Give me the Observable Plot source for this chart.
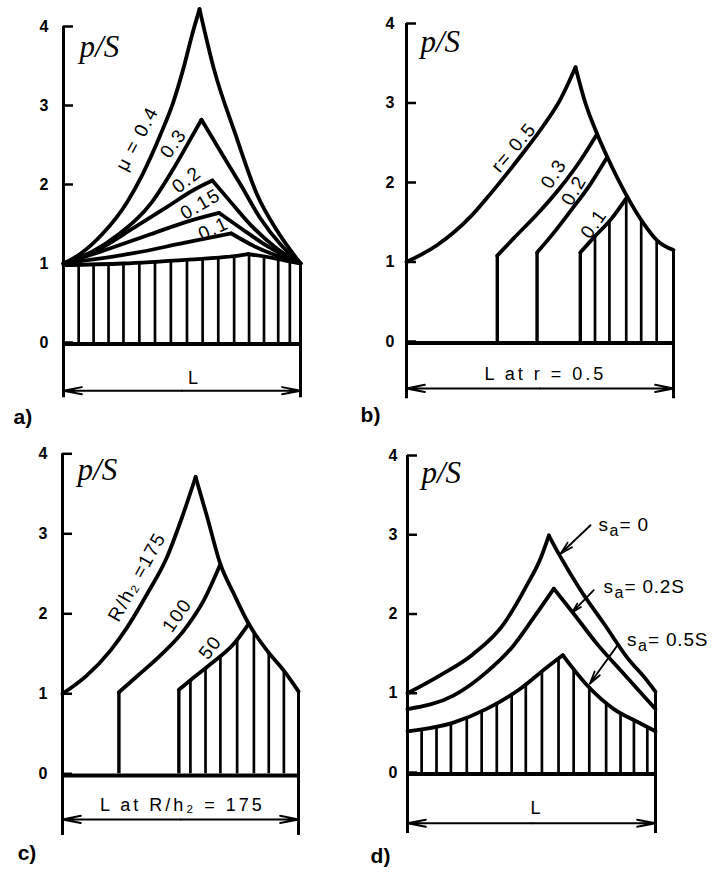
<!DOCTYPE html>
<html>
<head>
<meta charset="utf-8">
<script src="https://cdn.jsdelivr.net/npm/d3@7"></script>
<script src="https://cdn.jsdelivr.net/npm/@observablehq/plot@0.6"></script>
<style>
  body { margin: 0; background: #fff; }
  #fig { position: relative; width: 713px; height: 872px; background: #fff; overflow: hidden; }
  .panel { position: absolute; }
</style>
</head>
<body>
<div id="fig"></div>
<script>
// ---------- DATA (x = position along L, v = p/S) ----------
const yTicks = [0, 1, 2, 3, 4];

// a) friction coefficient mu
const aMu04  = [[0,1.0],[0.07,1.12],[0.163,1.37],[0.269,1.78],[0.332,2.12],[0.409,2.63],[0.464,3.05],[0.506,3.47],[0.543,3.9],[0.574,4.22],[0.634,3.47],[0.726,2.63],[0.817,1.87],[0.902,1.41],[1,1.0]];
const aMu03  = [[0,1.0],[0.121,1.15],[0.233,1.37],[0.374,1.78],[0.466,2.21],[0.529,2.54],[0.582,2.82],[0.662,2.42],[0.747,2.0],[0.831,1.57],[0.916,1.24],[1,1.0]];
const aMu02  = [[0,1.0],[0.156,1.19],[0.296,1.45],[0.439,1.72],[0.549,1.93],[0.628,2.05],[0.705,1.78],[0.802,1.45],[0.9,1.19],[1,1.0]];
const aMu015 = [[0,1.0],[0.156,1.15],[0.367,1.37],[0.522,1.53],[0.657,1.64],[0.747,1.45],[0.86,1.22],[1,1.0]];
const aMu01  = [[0,1.0],[0.296,1.13],[0.508,1.26],[0.708,1.38],[0.804,1.22],[1,1.0]];
const aLow   = [[0,0.98],[0.25,1.0],[0.53,1.05],[0.71,1.09],[0.78,1.12],[0.9,1.06],[1,1.0]];
const aHatchX = [0.064,0.127,0.19,0.253,0.32,0.386,0.453,0.521,0.587,0.653,0.72,0.783,0.846,0.906,0.955];
const aLabelText = ["μ = 0.4", "0.3", "0.2", "0.15", "0.1"];

// b) ratio r
const bR05 = [[0,1.0],[0.114,1.21],[0.24,1.57],[0.315,1.86],[0.427,2.33],[0.514,2.72],[0.577,3.05],[0.633,3.45]];
const bEnvelope = [[0.633,3.45],[0.67,3.0],[0.714,2.61],[0.752,2.32],[0.827,1.82],[0.889,1.48],[0.939,1.27],[1,1.15]];
const bR03 = [[0.34,1.08],[0.402,1.30],[0.489,1.60],[0.577,1.94],[0.652,2.28],[0.714,2.61]];
const bR02 = [[0.489,1.12],[0.552,1.37],[0.614,1.64],[0.689,1.98],[0.752,2.32]];
const bR01 = [[0.651,1.12],[0.702,1.31],[0.764,1.53],[0.827,1.82]];
const bHatchX = [0.706,0.76,0.823,0.879,0.937];
const bLabelText = ["r= 0.5", "0.3", "0.2", "0.1"];

// c) R/h2
const cR175 = [[0,1.0],[0.1,1.22],[0.203,1.54],[0.274,1.83],[0.359,2.25],[0.443,2.71],[0.507,3.21],[0.564,3.71]];
const cEnvelope = [[0.564,3.71],[0.613,3.21],[0.669,2.62],[0.726,2.25],[0.789,1.875],[0.867,1.54],[0.938,1.29],[1,1.03]];
const cR100 = [[0.239,1.02],[0.316,1.22],[0.415,1.48],[0.514,1.79],[0.599,2.17],[0.669,2.62]];
const cR50  = [[0.493,1.05],[0.542,1.17],[0.629,1.375],[0.726,1.625],[0.789,1.875]];
const cHatchX = [0.542,0.606,0.669,0.74,0.811,0.874,0.938];
const cLabelText = ["R/h₂ =175", "100", "50"];

// d) back tension s_a
const dS0  = [[0,1.0],[0.128,1.22],[0.263,1.49],[0.387,1.87],[0.477,2.34],[0.539,2.72],[0.57,2.99],[0.617,2.72],[0.698,2.30],[0.792,1.88],[0.886,1.45],[0.966,1.16],[1,1.02]];
const dS02 = [[0,0.8],[0.185,0.97],[0.32,1.27],[0.427,1.6],[0.508,1.95],[0.59,2.32],[0.671,2.0],[0.765,1.62],[0.859,1.29],[1,0.8]];
const dS05 = [[0,0.52],[0.185,0.63],[0.317,0.8],[0.452,1.05],[0.559,1.32],[0.626,1.48],[0.724,1.1],[0.832,0.8],[0.926,0.64],[1,0.52]];
const dHatchX = [0.057,0.117,0.175,0.239,0.299,0.36,0.42,0.477,0.542,0.609,0.67,0.733,0.801,0.859,0.913,0.967];
const dLabelText = ["0", "0.2S", "0.5S"];

// ---------- annotation placement (data coords) ----------
const aLabelAt = [[0.311,2.58,-62],[0.464,2.52,-55],[0.52,2.06,-38],[0.578,1.75,-30],[0.633,1.44,-25]];
const bLabelAt = [[0.402,2.44,-50],[0.552,2.11,-57],[0.627,1.90,-60],[0.702,1.48,-55]];
const cLabelAt = [[0.316,2.46,-61],[0.486,1.98,-55],[0.627,1.58,-52]];
const dLabelAt = [[0.770,3.05],[0.790,2.26],[0.885,1.60]];
const dArrowAt = [[0.738,3.12,0.617,2.76],[0.751,2.30,0.664,2.02],[0.85,1.62,0.735,1.12]];

// ---------- helpers ----------
const FONT = "'Liberation Sans', Arial, Helvetica, sans-serif";
const SERIF = "'Liberation Serif', 'Times New Roman', serif";

function branchRows(points, id) {
  const i = d3.maxIndex(points, p => p[1]);
  const rows = [];
  if (i > 0) for (const p of points.slice(0, i + 1)) rows.push({x: p[0], v: p[1], id: id + "-up"});
  if (i < points.length - 1) for (const p of points.slice(i)) rows.push({x: p[0], v: p[1], id: id + "-down"});
  return rows;
}
function interp(pts, x) {
  for (let i = 1; i < pts.length; i++) {
    if (x <= pts[i][0]) {
      const [x0, y0] = pts[i - 1], [x1, y1] = pts[i];
      return y0 + (y1 - y0) * (x - x0) / (x1 - x0);
    }
  }
  return pts[pts.length - 1][1];
}
function labelRows(texts, at) {
  return texts.map((t, i) => ({text: t, x: at[i][0], v: at[i][1], angle: at[i][2]}));
}

function makePanel(cfg) {
  const xw = cfg.xRange[1] - cfg.xRange[0];
  const tickLen = 10 / xw;
  const rows = cfg.curves.flatMap(([pts, id]) => branchRows(pts, id));
  const marks = [
    Plot.ruleX(cfg.hatchX, {x: d => d, y1: 0, y2: d => cfg.hatchTop(d), strokeWidth: 2.7}),
    Plot.ruleX(cfg.starts, {x: d => d[0], y1: 0, y2: d => d[1], strokeWidth: 3.4}),
    Plot.line(rows, {x: "x", y: "v", z: "id", curve: "monotone-x", strokeWidth: 3.8, strokeLinejoin: "round", strokeLinecap: "round"}),
    Plot.ruleY([-0.02], {x1: 0, x2: 1, strokeWidth: 4}),
    Plot.ruleX([0], {y1: cfg.bottomV, y2: 4, strokeWidth: 3}),
    Plot.ruleX([1], {y1: cfg.bottomV, y2: cfg.endV, strokeWidth: 3}),
    Plot.ruleY(yTicks, {x1: 0, x2: tickLen, strokeWidth: 2.5}),
    Plot.text(yTicks, {x: 0, y: d => d, text: d => String(d), dx: cfg.tickDx, textAnchor: "end", fontSize: 16, fontWeight: "bold", fontFamily: FONT}),
    Plot.arrow([0, 1], {x1: 0.5, y1: cfg.dimV, x2: d => d, y2: cfg.dimV, headLength: 14, headAngle: 22, strokeWidth: 2}),
    Plot.text([cfg.dimLabel], {x: cfg.dimLabelX, y: cfg.dimLabelV, text: d => d, lineAnchor: "bottom", fontSize: 18, fontFamily: FONT}),
    Plot.text(["p/S"], {x: cfg.psX, y: cfg.psV, text: d => d, textAnchor: "start", lineAnchor: "bottom", fontSize: 31, fontStyle: "italic", fontFamily: SERIF}),
    Plot.text([cfg.tag], {x: cfg.tagX, y: cfg.tagV, text: d => d, textAnchor: "start", lineAnchor: "bottom", fontSize: 21, fontWeight: "bold", fontFamily: FONT}),
    Plot.text(cfg.labels, {x: "x", y: "v", text: "text", rotate: "angle", fontSize: 19, fontFamily: FONT}),
    ...(cfg.extra || [])
  ];
  const svg = Plot.plot({
    width: cfg.width, height: cfg.height, margin: 0,
    x: {domain: [0, 1], range: cfg.xRange, axis: null},
    y: {domain: [0, 4], range: cfg.yRange, axis: null},
    style: {background: "transparent", overflow: "visible", color: "#000"},
    marks
  });
  // letter spacing to mimic the wide lettering of the original drawing
  const labelSet = new Set(cfg.labels.map(d => d.text));
  d3.select(svg).selectAll("text").each(function () {
    const t = this.textContent;
    if (labelSet.has(t)) this.style.letterSpacing = "1.5px";
    else if (t === cfg.dimLabel && t.length > 1) this.style.letterSpacing = "3px";
    else if (t.startsWith("= ")) this.style.letterSpacing = "0.8px";
  });
  const div = document.createElement("div");
  div.className = "panel";
  div.style.left = cfg.left + "px";
  div.style.top = cfg.top + "px";
  div.appendChild(svg);
  document.getElementById("fig").appendChild(div);
}

// ---------- panels ----------
makePanel({
  left: 0, top: 0, width: 356, height: 432, xRange: [63, 300], yRange: [342, 26],
  curves: [[aMu04, "0.4"], [aMu03, "0.3"], [aMu02, "0.2"], [aMu015, "0.15"], [aMu01, "0.1"], [aLow, "low"]],
  hatchX: aHatchX, hatchTop: x => interp(aLow, x), starts: [],
  endV: 1.0, bottomV: -0.7, dimV: -0.61, dimLabel: "L", dimLabelX: 0.546, dimLabelV: -0.52,
  tickDx: -15, psX: 0.068, psV: 3.61, tag: "a)", tagX: -0.211, tagV: -1.03,
  labels: labelRows(aLabelText, aLabelAt)
});

makePanel({
  left: 356, top: 0, width: 357, height: 432, xRange: [50, 317], yRange: [341, 23],
  curves: [[bR05, "0.5"], [bEnvelope, "env"], [bR03, "0.3"], [bR02, "0.2"], [bR01, "0.1"]],
  hatchX: bHatchX, hatchTop: x => x <= 0.827 ? interp(bR01, x) : interp(bEnvelope, x),
  starts: [bR03[0], bR02[0], bR01[0]],
  endV: 1.15, bottomV: -0.72, dimV: -0.59, dimLabel: "L at r = 0.5", dimLabelX: 0.52, dimLabelV: -0.49,
  tickDx: -12, psX: 0.052, psV: 3.64, tag: "b)", tagX: -0.172, tagV: -1.01,
  labels: labelRows(bLabelText, bLabelAt)
});

makePanel({
  left: 0, top: 430, width: 356, height: 442, xRange: [62, 298], yRange: [343.3, 23.3],
  curves: [[cR175, "175"], [cEnvelope, "env"], [cR100, "100"], [cR50, "50"]],
  hatchX: cHatchX, hatchTop: x => x <= 0.789 ? interp(cR50, x) : interp(cEnvelope, x),
  starts: [cR100[0], cR50[0]],
  endV: 1.03, bottomV: -0.77, dimV: -0.57, dimLabel: "L at R/h₂ = 175", dimLabelX: 0.508, dimLabelV: -0.47,
  tickDx: -15, psX: 0.064, psV: 3.67, tag: "c)", tagX: -0.19, tagV: -1.08,
  labels: labelRows(cLabelText, cLabelAt)
});

const dRows = dLabelText.map((t, i) => ({text: t, x: dLabelAt[i][0], v: dLabelAt[i][1]}));
const dArrows = dArrowAt.map(a => ({x1: a[0], y1: a[1], x2: a[2], y2: a[3]}));
makePanel({
  left: 356, top: 430, width: 357, height: 442, xRange: [51, 299], yRange: [342, 25],
  curves: [[dS0, "0"], [dS02, "0.2"], [dS05, "0.5"]],
  hatchX: dHatchX, hatchTop: x => interp(dS05, x), starts: [],
  endV: 1.02, bottomV: -0.77, dimV: -0.64, dimLabel: "L", dimLabelX: 0.516, dimLabelV: -0.52,
  tickDx: -10, psX: 0.056, psV: 3.65, tag: "d)", tagX: -0.149, tagV: -1.14,
  labels: [],
  extra: [
    Plot.arrow(dArrows, {x1: "x1", y1: "y1", x2: "x2", y2: "y2", headLength: 11, headAngle: 28, strokeWidth: 1.8}),
    Plot.text(dRows, {x: "x", y: "v", text: () => "s", textAnchor: "start", lineAnchor: "bottom", fontSize: 19, fontFamily: FONT}),
    Plot.text(dRows, {x: "x", y: "v", text: () => "a", dx: 11, dy: 5, textAnchor: "start", lineAnchor: "bottom", fontSize: 16, fontFamily: FONT}),
    Plot.text(dRows, {x: "x", y: "v", text: d => "= " + d.text, dx: 21, textAnchor: "start", lineAnchor: "bottom", fontSize: 19, fontFamily: FONT})
  ]
});
</script>
</body>
</html>
